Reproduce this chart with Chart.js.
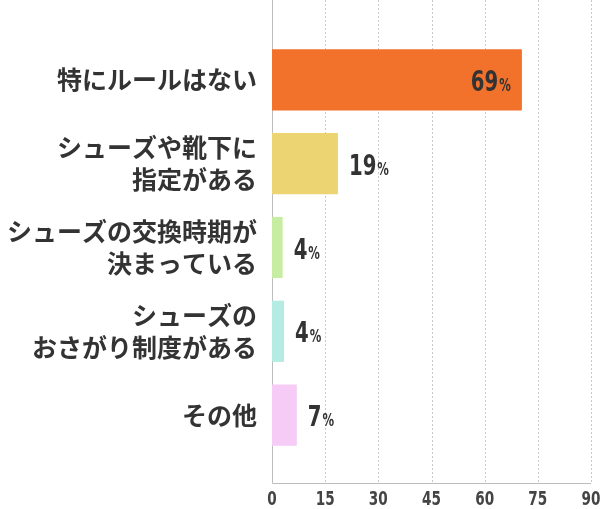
<!DOCTYPE html>
<html>
<head>
<meta charset="utf-8">
<script src="https://cdn.jsdelivr.net/npm/chart.js@4"></script>
<style>
  body { margin: 0; background: #fff; }
  #wrap { width: 609px; height: 509px; }
</style>
</head>
<body>
<div id="wrap"><canvas id="c"></canvas></div>
<script>
const categories = [
  ['特にルールはない'],
  ['シューズや靴下に', '指定がある'],
  ['シューズの交換時期が', '決まっている'],
  ['シューズの', 'おさがり制度がある'],
  ['その他']
];
const barValues = [70.5, 18.6, 3, 3.4, 7];
const shownPercents = ['69', '19', '4', '4', '7'];
const barColors = ['#f2712b', '#edd472', '#c6eda2', '#b4ebe2', '#f6cbf6'];
const xTicks = [0, 15, 30, 45, 60, 75, 90];

const narrow = 'bold {s}px "DejaVu Sans", sans-serif';
const AXIS_Y = 483;

// draw condensed text by squeezing horizontally
function squeezed(ctx, text, x, y, size, align) {
  ctx.font = narrow.replace('{s}', size);
  const w = ctx.measureText(text).width * 0.68;
  let left = align === 'center' ? x - w / 2 : x;
  ctx.save();
  ctx.translate(left, y);
  ctx.scale(0.68, 1);
  ctx.textAlign = 'left';
  ctx.fillText(text, 0, 0);
  ctx.restore();
  return w;
}
function squeezedWidth(ctx, text, size) {
  ctx.font = narrow.replace('{s}', size);
  return ctx.measureText(text).width * 0.68;
}

// dotted grid, axis lines and x tick labels
const gridPlugin = {
  id: 'grid',
  beforeDatasetsDraw(chart) {
    const { ctx, scales: { x } } = chart;
    ctx.save();
    ctx.strokeStyle = '#c8c8c8';
    ctx.lineWidth = 1;
    ctx.setLineDash([2, 2]);
    xTicks.slice(1).forEach(v => {
      const px = Math.round(x.getPixelForValue(v)) + 0.5;
      ctx.beginPath(); ctx.moveTo(px, 0); ctx.lineTo(px, AXIS_Y); ctx.stroke();
    });
    ctx.setLineDash([]);
    ctx.strokeStyle = '#bdbdbd';
    const x0 = Math.round(x.getPixelForValue(0)) + 0.5;
    ctx.beginPath(); ctx.moveTo(x0, 0); ctx.lineTo(x0, AXIS_Y + 0.5);
    ctx.lineTo(x.getPixelForValue(90), AXIS_Y + 0.5); ctx.stroke();
    ctx.fillStyle = '#444';
    ctx.textBaseline = 'alphabetic';
    xTicks.forEach(v => squeezed(ctx, String(v), x.getPixelForValue(v), 505, 20, 'center'));
    ctx.restore();
  }
};

const valuePlugin = {
  id: 'values',
  afterDatasetsDraw(chart) {
    const { ctx } = chart;
    const meta = chart.getDatasetMeta(0);
    ctx.save();
    ctx.fillStyle = '#333';
    ctx.textBaseline = 'alphabetic';
    meta.data.forEach((bar, i) => {
      const num = shownPercents[i];
      const nw = squeezedWidth(ctx, num, 29);
      const pw = squeezedWidth(ctx, '%', 17);
      const left = barValues[i] > 30 ? bar.x - 12 - nw - pw : bar.x + 11;
      const base = bar.y + 11;
      squeezed(ctx, num, left, base, 29);
      squeezed(ctx, '%', left + nw + 1, base, 17);
    });
    ctx.restore();
  }
};

new Chart(document.getElementById('c'), {
  type: 'bar',
  data: {
    labels: categories,
    datasets: [{
      data: barValues,
      backgroundColor: barColors,
      barPercentage: 0.73,
      categoryPercentage: 1
    }]
  },
  options: {
    indexAxis: 'y',
    responsive: true,
    maintainAspectRatio: false,
    animation: false,
    layout: { padding: { top: 38, right: 18, bottom: 44 } },
    plugins: { legend: { display: false }, tooltip: { enabled: false } },
    scales: {
      x: {
        min: 0, max: 90,
        afterBuildTicks: s => { s.ticks = xTicks.map(v => ({ value: v })); },
        grid: { display: false },
        border: { display: false },
        ticks: { display: false }
      },
      y: {
        grid: { display: false },
        border: { display: false },
        ticks: {
          padding: 7,
          color: '#333',
          font: { family: '"Noto Sans CJK JP", sans-serif', size: 25, weight: 'bold', lineHeight: 1.3 }
        }
      }
    }
  },
  plugins: [gridPlugin, valuePlugin]
});
</script>
</body>
</html>
